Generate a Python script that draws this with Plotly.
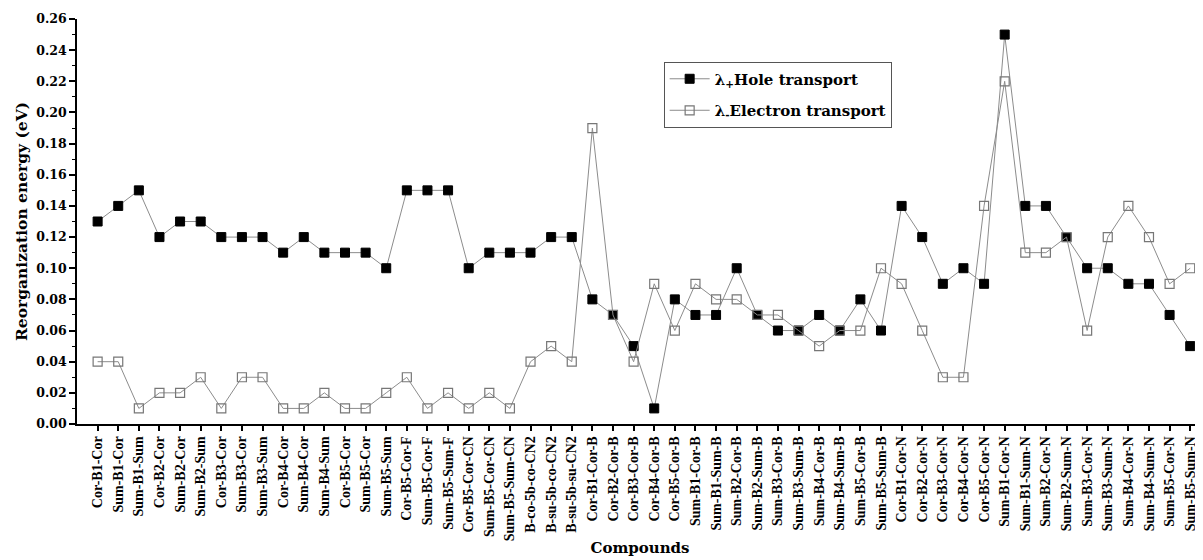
import plotly.graph_objects as go

compounds = [
    "Cor-B1-Cor", "Sum-B1-Cor", "Sum-B1-Sum", "Cor-B2-Cor", "Sum-B2-Cor", "Sum-B2-Sum",
    "Cor-B3-Cor", "Sum-B3-Cor", "Sum-B3-Sum", "Cor-B4-Cor", "Sum-B4-Cor", "Sum-B4-Sum",
    "Cor-B5-Cor", "Sum-B5-Cor", "Sum-B5-Sum", "Cor-B5-Cor-F", "Sum-B5-Cor-F", "Sum-B5-Sum-F",
    "Cor-B5-Cor-CN", "Sum-B5-Cor-CN", "Sum-B5-Sum-CN", "B-co-5b-co-CN2", "B-su-5b-co-CN2",
    "B-su-5b-su-CN2", "Cor-B1-Cor-B", "Cor-B2-Cor-B", "Cor-B3-Cor-B", "Cor-B4-Cor-B",
    "Cor-B5-Cor-B", "Sum-B1-Cor-B", "Sum-B1-Sum-B", "Sum-B2-Cor-B", "Sum-B2-Sum-B",
    "Sum-B3-Cor-B", "Sum-B3-Sum-B", "Sum-B4-Cor-B", "Sum-B4-Sum-B", "Sum-B5-Cor-B",
    "Sum-B5-Sum-B", "Cor-B1-Cor-N", "Cor-B2-Cor-N", "Cor-B3-Cor-N", "Cor-B4-Cor-N",
    "Cor-B5-Cor-N", "Sum-B1-Cor-N", "Sum-B1-Sum-N", "Sum-B2-Cor-N", "Sum-B2-Sum-N",
    "Sum-B3-Cor-N", "Sum-B3-Sum-N", "Sum-B4-Cor-N", "Sum-B4-Sum-N", "Sum-B5-Cor-N",
    "Sum-B5-Sum-N",
]

hole = [
    0.13, 0.14, 0.15, 0.12, 0.13, 0.13, 0.12, 0.12, 0.12, 0.11, 0.12, 0.11,
    0.11, 0.11, 0.10, 0.15, 0.15, 0.15, 0.10, 0.11, 0.11, 0.11, 0.12, 0.12,
    0.08, 0.07, 0.05, 0.01, 0.08, 0.07, 0.07, 0.10, 0.07, 0.06, 0.06, 0.07,
    0.06, 0.08, 0.06, 0.14, 0.12, 0.09, 0.10, 0.09, 0.25, 0.14, 0.14, 0.12,
    0.10, 0.10, 0.09, 0.09, 0.07, 0.05,
]

electron = [
    0.04, 0.04, 0.01, 0.02, 0.02, 0.03, 0.01, 0.03, 0.03, 0.01, 0.01, 0.02,
    0.01, 0.01, 0.02, 0.03, 0.01, 0.02, 0.01, 0.02, 0.01, 0.04, 0.05, 0.04,
    0.19, 0.07, 0.04, 0.09, 0.06, 0.09, 0.08, 0.08, 0.07, 0.07, 0.06, 0.05,
    0.06, 0.06, 0.10, 0.09, 0.06, 0.03, 0.03, 0.14, 0.22, 0.11, 0.11, 0.12,
    0.06, 0.12, 0.14, 0.12, 0.09, 0.10,
]

y_ticks = [0.00, 0.02, 0.04, 0.06, 0.08, 0.10, 0.12, 0.14, 0.16, 0.18, 0.20, 0.22, 0.24, 0.26]

serif = "Liberation Serif"
ytick_font = "DejaVu Serif"

fig = go.Figure()
fig.add_trace(go.Scatter(
    x=compounds, y=hole, mode="lines+markers",
    name="λ<sub>+</sub>Hole transport", legendgroup="h",
    line=dict(color="#8c8c8c", width=1),
    marker=dict(symbol="square", size=9, color="black", line=dict(color="black", width=1)),
))
fig.add_trace(go.Scatter(
    x=compounds, y=electron, mode="lines+markers",
    name="λ<sub>-</sub>Electron transport", legendgroup="e",
    line=dict(color="#8c8c8c", width=1),
    marker=dict(symbol="square-open", size=9, color="#777777", line=dict(width=1.2)),
))

# The page body adds an 8 px margin, so the figure is shrunk by 8 px to fit the window.
fig.update_layout(
    width=1195, height=552,
    margin=dict(l=69, r=0, t=11, b=136),
    paper_bgcolor="white", plot_bgcolor="white",
    showlegend=True,
    legend=dict(
        x=0.521, y=0.895, xanchor="left", yanchor="top",
        bgcolor="white", bordercolor="#555555", borderwidth=1,
        font=dict(family=ytick_font, size=15, color="black", weight="bold"),
        itemwidth=40, tracegroupgap=9,
    ),
    xaxis=dict(
        type="category", range=[-1, 53.62],
        tickmode="array", tickvals=compounds, ticktext=compounds,
        tickangle=-90, ticklabeloverflow="allow",
        tickfont=dict(family=serif, size=14, color="black", weight="bold"),
        showline=True, linecolor="black", linewidth=1.5,
        ticks="outside", ticklen=5, tickwidth=1.5, tickcolor="black",
        showgrid=False, zeroline=False, automargin=False,
        title=dict(text="Compounds", standoff=2,
                   font=dict(family=ytick_font, size=15, color="black", weight="bold")),
    ),
    yaxis=dict(
        range=[0, 0.26], tickmode="array", tickvals=y_ticks,
        ticktext=[f"{v:.2f}" for v in y_ticks],
        tickfont=dict(family=ytick_font, size=12.5, color="black", weight="bold"),
        showline=True, linecolor="black", linewidth=1.5,
        ticks="outside", ticklen=6, tickwidth=1.5, tickcolor="black",
        minor=dict(dtick=0.01, ticks="outside", ticklen=3, tickwidth=1, tickcolor="black", showgrid=False),
        showgrid=False, zeroline=False,
        title=dict(text="Reorganization energy (eV)", standoff=5,
                   font=dict(family=ytick_font, size=15.5, color="black", weight="bold")),
    ),
)

fig.write_html("out.html")
